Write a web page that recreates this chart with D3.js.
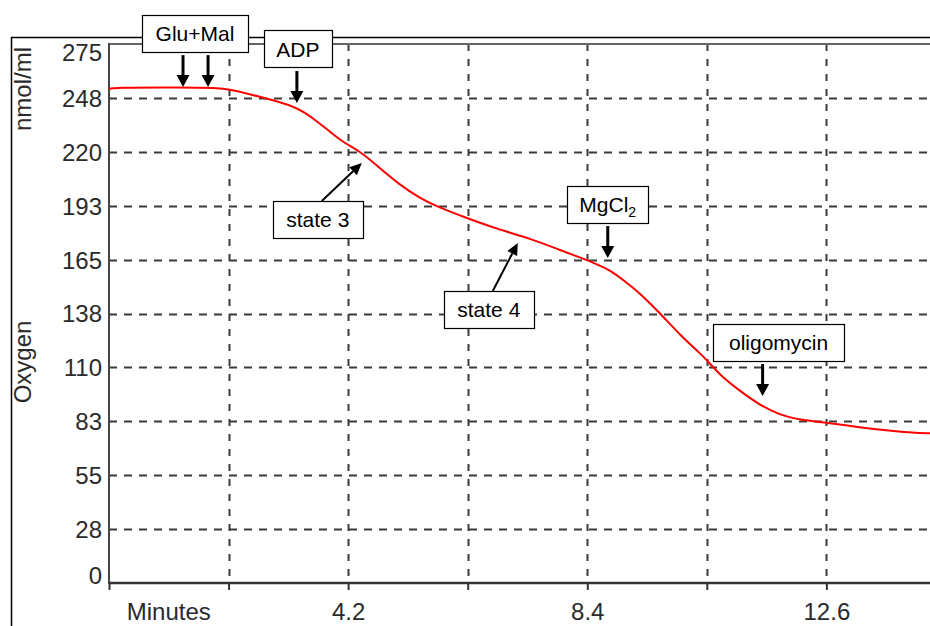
<!DOCTYPE html>
<html>
<head>
<meta charset="utf-8">
<script src="https://cdn.jsdelivr.net/npm/d3@7"></script>
<style>
  html, body { margin: 0; padding: 0; background: #fff; }
  #chart { width: 930px; height: 626px; overflow: hidden; position: relative; }
  text { font-family: "Liberation Sans", Arial, sans-serif; }
</style>
</head>
<body>
<div id="chart"></div>
<script>
// Oxygen trace (respirometry)
(function () {
  ///////////////////////////////////////////////////////////// ! Data
  // Time in minutes and oxygen in nmol/ml
  const timeMin = [0, 0.05, 1.3, 1.9, 2.09, 2.65, 3.3, 3.58, 3.88, 4.14, 4.41, 4.76, 5.11, 5.46, 5.76,
    6.29, 6.87, 7.39, 7.92, 8.39, 8.6, 8.8, 9.1, 9.32, 9.68, 10.03, 10.38, 10.5, 10.73,
    11.08, 11.43, 11.78, 12.13, 12.61, 13.19, 13.71, 14.12, 14.42];
  const oxygen = [252.0, 252.8, 252.9, 252.6, 252.1, 248.1, 243.0, 237.2, 230.3, 224.3, 220.3, 211.6, 203.1, 196.3, 192.0,
    186.1, 180.1, 175.9, 169.9, 164.8, 162.2, 159.7, 153.1, 148.0, 137.6, 126.5, 117.2, 113.8, 106.1,
    98.0, 90.8, 85.7, 83.3, 81.8, 79.4, 77.7, 76.7, 76.4];

  // Axis ticks
  const yTicks = [0, 27.5, 55, 82.5, 110, 137.5, 165, 192.5, 220, 247.5, 275];
  const yTickLabels = ["0", "28", "55", "83", "110", "138", "165", "193", "220", "248", "275"];
  const xTicks = [0, 2.1, 4.2, 6.3, 8.4, 10.5, 12.6];
  const xTickLabels = ["", "", "4.2", "", "8.4", "", "12.6"];
  const xTitle = "Minutes";
  const xTitleAt = 1.05;

  // Events added during the run (arrow tip in time / oxygen)
  const eventNames = ["Glu+Mal", "ADP", "MgCl2", "oligomycin", "state 3", "state 4"];
  const eventTimes = [[1.3, 1.74], [3.3], [8.76], [11.48], [4.44], [7.18]];
  const eventLevels = [253, 244.9, 165.8, 95.4, 214.3, 173.5];

  ///////////////////////////////////////////////////////////// ! Setup
  const fullWidth = 930;
  const fullHeight = 626;
  const margin = { top: 44, right: 0, bottom: 43, left: 109 };
  const width = fullWidth - margin.left - margin.right;
  const height = fullHeight - margin.top - margin.bottom;

  const svg = d3
    .select("#chart")
    .append("svg")
    .attr("width", fullWidth)
    .attr("height", fullHeight)
    .style("display", "block");

  const g = svg.append("g").attr("transform", `translate(${margin.left},${margin.top})`);

  ///////////////////////////////////////////////////////////// ! Scales
  const xScale = d3.scaleLinear().domain([0, 14.42]).range([0, width]);
  const yScale = d3.scaleLinear().domain([0, 275]).range([height, 0]);

  ///////////////////////////////////////////////////////////// ! Outer frame
  svg.append("line")
    .attr("x1", 11).attr("x2", fullWidth)
    .attr("y1", 37.5).attr("y2", 37.5)
    .attr("stroke", "#000").attr("stroke-width", 1.5);
  svg.append("line")
    .attr("x1", 11.5).attr("x2", 11.5)
    .attr("y1", 37).attr("y2", fullHeight)
    .attr("stroke", "#000").attr("stroke-width", 1.5);

  ///////////////////////////////////////////////////////////// ! Grid
  g.append("g")
    .selectAll("line")
    .data(yTicks.slice(1, -1))
    .join("line")
    .attr("x1", 0).attr("x2", width)
    .attr("y1", (d) => Math.round(yScale(d)) + 0.5)
    .attr("y2", (d) => Math.round(yScale(d)) + 0.5)
    .attr("stroke", "#3a3a3a")
    .attr("stroke-width", 2)
    .attr("stroke-dasharray", "8,7");

  g.append("g")
    .selectAll("line")
    .data(xTicks.slice(1))
    .join("line")
    .attr("x1", (d) => Math.round(xScale(d)) + 0.5)
    .attr("x2", (d) => Math.round(xScale(d)) + 0.5)
    .attr("y1", 0).attr("y2", height)
    .attr("stroke", "#3a3a3a")
    .attr("stroke-width", 2)
    .attr("stroke-dasharray", "7,8");

  ///////////////////////////////////////////////////////////// ! Axes
  const yAxis = g.append("g")
    .call(d3.axisLeft(yScale).tickValues(yTicks).tickSize(0).tickPadding(7)
      .tickFormat((d, i) => yTickLabels[i]));
  yAxis.select(".domain").remove();
  yAxis.selectAll("text")
    .style("font-family", '"Liberation Sans", Arial, sans-serif')
    .style("font-size", "24px")
    .attr("fill", "#2a2a2a")
    .attr("dy", (d) => (d === 275 ? "0.7em" : d === 0 ? "0.02em" : "0.35em"));

  const xAxis = g.append("g")
    .attr("transform", `translate(0,${height})`)
    .call(d3.axisBottom(xScale).tickValues(xTicks).tickSize(7).tickPadding(13)
      .tickFormat((d, i) => xTickLabels[i]));
  xAxis.select(".domain").remove();
  xAxis.selectAll("line").attr("stroke", "#333").attr("stroke-width", 2);
  xAxis.selectAll("text")
    .style("font-family", '"Liberation Sans", Arial, sans-serif')
    .style("font-size", "24px")
    .attr("fill", "#2a2a2a");

  xAxis.append("text")
    .attr("x", xScale(xTitleAt))
    .attr("y", 20)
    .attr("dy", "0.71em")
    .attr("text-anchor", "middle")
    .style("font-size", "24px")
    .attr("fill", "#2a2a2a")
    .text(xTitle);

  // Y titles
  svg.append("text")
    .attr("transform", "translate(31,89) rotate(-90)")
    .attr("text-anchor", "middle")
    .style("font-size", "24px")
    .attr("fill", "#2a2a2a")
    .text("nmol/ml");
  svg.append("text")
    .attr("transform", "translate(31,362) rotate(-90)")
    .attr("text-anchor", "middle")
    .style("font-size", "24px")
    .attr("fill", "#2a2a2a")
    .text("Oxygen");

  // Plot border
  g.append("line")
    .attr("x1", 0).attr("x2", width).attr("y1", 0).attr("y2", 0)
    .attr("stroke", "#666").attr("stroke-width", 2);
  g.append("line")
    .attr("x1", 0).attr("x2", 0).attr("y1", -1).attr("y2", height + 1)
    .attr("stroke", "#444").attr("stroke-width", 2);
  g.append("line")
    .attr("x1", 0).attr("x2", width).attr("y1", height).attr("y2", height)
    .attr("stroke", "#333").attr("stroke-width", 2.5);

  ///////////////////////////////////////////////////////////// ! Trace
  const traceData = timeMin.map((t, i) => ({ t: t, v: oxygen[i] }));
  const line = d3.line()
    .x((d) => xScale(d.t))
    .y((d) => yScale(d.v))
    .curve(d3.curveBasis);

  g.append("path")
    .datum(traceData)
    .attr("d", line)
    .attr("fill", "none")
    .attr("stroke", "#ff0000")
    .attr("stroke-width", 2);

  ///////////////////////////////////////////////////////////// ! Annotations
  // Box layout relative to the first arrow tip (pixels)
  const boxLayout = [
    { kind: "down", dx: 12, w: 106 },
    { kind: "down", dx: 1, w: 68 },
    { kind: "down", dx: 0, w: 81 },
    { kind: "down", dx: 16, w: 131 },
    { kind: "diag", dx: -44, dy: 38, w: 90, tail: 4 },
    { kind: "diag", dx: -29, dy: 48, w: 90, tail: 4 },
  ];
  const boxH = 37;

  function arrow(parent, x1, y1, x2, y2, shaft, headLen, headHalf) {
    const len = Math.hypot(x2 - x1, y2 - y1);
    const ux = (x2 - x1) / len;
    const uy = (y2 - y1) / len;
    const bx = x2 - ux * headLen;
    const by = y2 - uy * headLen;
    parent.append("line")
      .attr("x1", x1).attr("y1", y1)
      .attr("x2", bx).attr("y2", by)
      .attr("stroke", "#000").attr("stroke-width", shaft);
    parent.append("path")
      .attr("d", `M${x2},${y2}L${bx - uy * headHalf},${by + ux * headHalf}L${bx + uy * headHalf},${by - ux * headHalf}Z`)
      .attr("fill", "#000");
  }

  const ann = svg.append("g").attr("transform", `translate(${margin.left},${margin.top})`);

  eventNames.forEach((name, i) => {
    const lay = boxLayout[i];
    const tipY = yScale(eventLevels[i]);
    const tips = eventTimes[i].map((t) => xScale(t));
    let cx, top;
    if (lay.kind === "down") {
      cx = tips[0] + lay.dx;
      top = tipY - 35.5 - boxH;
      tips.forEach((tx) => arrow(ann, tx, tipY - 32, tx, tipY, 3, 12, 6.5));
    } else {
      cx = tips[0] + lay.dx;
      top = tipY + lay.dy;
      arrow(ann, cx + lay.tail, top, tips[0], tipY, 2, 12, 5.5);
    }

    ann.append("rect")
      .attr("x", Math.round(cx - lay.w / 2) + 0.5)
      .attr("y", Math.round(top) + 0.5)
      .attr("width", lay.w)
      .attr("height", boxH)
      .attr("fill", "#fff")
      .attr("stroke", "#000")
      .attr("stroke-width", 1.2);

    const label = ann.append("text")
      .attr("x", cx)
      .attr("y", top + boxH / 2)
      .attr("dy", "0.36em")
      .attr("text-anchor", "middle")
      .style("font-size", "21px")
      .attr("fill", "#000");

    if (name === "MgCl2") {
      label.append("tspan").text("MgCl");
      label.append("tspan").attr("dy", 5).style("font-size", "14px").text("2");
    } else {
      label.text(name);
    }
  });
})();
</script>
</body>
</html>
